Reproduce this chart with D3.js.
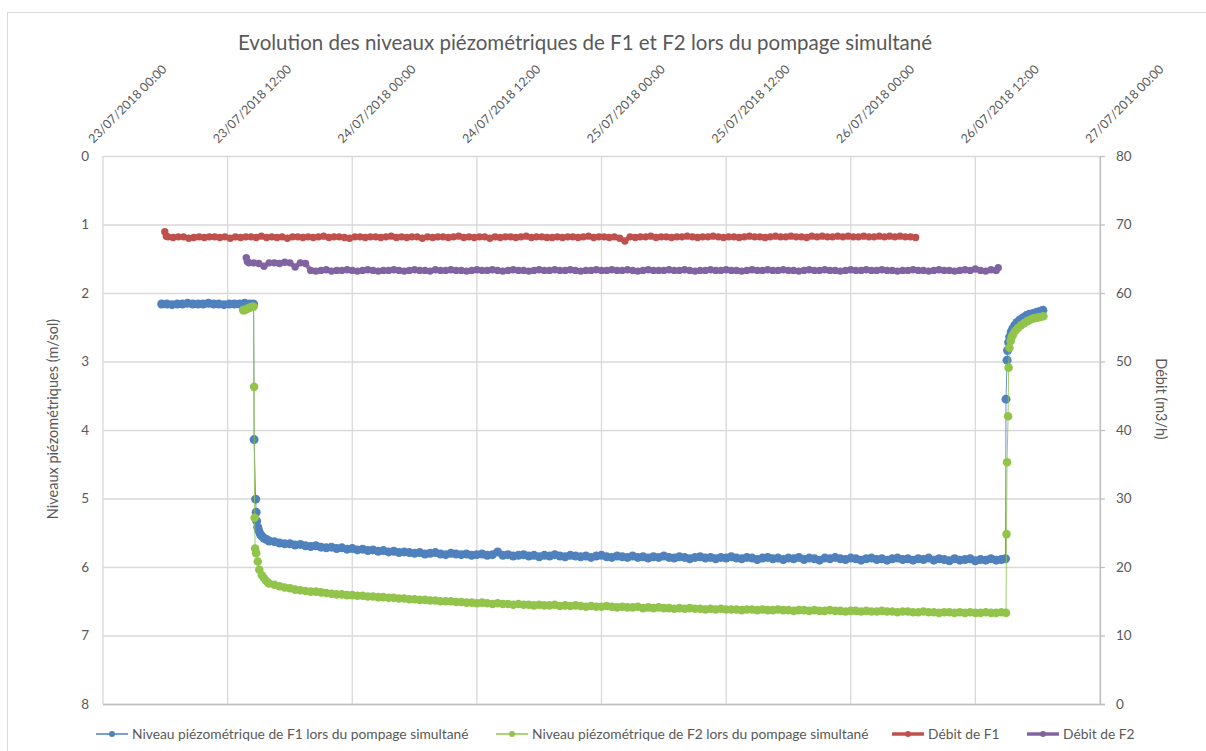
<!DOCTYPE html>
<html>
<head>
<meta charset="utf-8">
<script src="https://cdn.jsdelivr.net/npm/d3@7"></script>
<style>
  body { margin: 0; background: #fff; }
  svg text { font-family: Lato, "Open Sans", sans-serif; fill: #595959; }
</style>
</head>
<body>
<div id="chart"></div>
<script>
// times are hours after 23/07/2018 00:00 ; regular parts are logged every 30 min
var logStep = 0.5;

// --- F1 level (m/sol)
var f1LevelPreStart = 5.65;
var f1LevelPre = [2.16,2.16,2.17,2.16,2.16,2.15,2.16,2.16,2.16,2.15,2.16,2.16,2.17,2.16,2.16,2.16,2.15,2.16];
var f1LevelDrop = [[14.5,2.16],[14.55,4.14],[14.7,5.01],[14.75,5.2],[14.8,5.33],[14.9,5.42],[15.0,5.47],
  [15.15,5.52],[15.3,5.55],[15.5,5.58],[15.75,5.6]];
var f1LevelPumpStart = 16.0;
var f1LevelPump = [
  5.62,5.63,5.65,5.66,5.66,5.68,5.67,5.69,5.70,5.69,
  5.71,5.72,5.71,5.73,5.72,5.74,5.73,5.75,5.74,5.76,
  5.75,5.77,5.76,5.78,5.77,5.79,5.78,5.79,5.80,5.79,
  5.81,5.80,5.79,5.81,5.82,5.80,5.81,5.82,5.81,5.83,
  5.82,5.81,5.83,5.82,5.78,5.83,5.82,5.84,5.83,5.82,
  5.84,5.83,5.85,5.83,5.84,5.82,5.84,5.85,5.83,5.84,
  5.85,5.84,5.86,5.84,5.83,5.85,5.86,5.84,5.85,5.86,
  5.84,5.86,5.85,5.87,5.85,5.86,5.84,5.86,5.87,5.85,
  5.86,5.88,5.86,5.85,5.87,5.86,5.88,5.86,5.87,5.85,
  5.87,5.88,5.86,5.87,5.89,5.87,5.86,5.88,5.87,5.89,
  5.87,5.88,5.86,5.89,5.87,5.88,5.90,5.87,5.88,5.86,
  5.88,5.89,5.87,5.88,5.90,5.88,5.87,5.89,5.88,5.90,
  5.88,5.87,5.89,5.88,5.90,5.88,5.89,5.87,5.90,5.88,
  5.89,5.91,5.88,5.90,5.89,5.88,5.91,5.89,5.90,5.88,
  5.90,5.89];
var f1LevelRecovery = [[86.9,5.88],[86.95,3.55],[87.05,2.98],[87.1,2.84],[87.2,2.72],[87.3,2.64],[87.45,2.57],
  [87.6,2.52],[87.8,2.47],[88.0,2.43],[88.3,2.39],[88.6,2.36],[88.9,2.33],[89.2,2.31],[89.55,2.3],
  [89.9,2.28],[90.2,2.27],[90.5,2.25]];

// --- F2 level (m/sol)
var f2LevelPre = [[13.5,2.25],[13.6,2.25],[13.75,2.24],[13.9,2.23],[14.05,2.22],[14.2,2.21],[14.35,2.2],[14.5,2.2]];
var f2LevelDrop = [[14.55,3.37],[14.6,5.28],[14.65,5.73],[14.75,5.8],[14.9,5.92],[15.05,6.04],[15.3,6.12],
  [15.5,6.16],[15.7,6.2],[15.9,6.23]];
var f2LevelPumpStart = 16.0;
var f2LevelPump = [
  6.24,6.26,6.28,6.30,6.31,6.33,6.34,6.35,6.36,6.36,
  6.37,6.38,6.39,6.40,6.40,6.41,6.41,6.42,6.42,6.43,
  6.43,6.44,6.44,6.45,6.45,6.46,6.46,6.47,6.47,6.48,
  6.48,6.49,6.49,6.50,6.50,6.50,6.51,6.51,6.52,6.52,
  6.53,6.52,6.53,6.54,6.53,6.54,6.54,6.55,6.54,6.55,
  6.55,6.56,6.55,6.56,6.56,6.55,6.57,6.56,6.57,6.56,
  6.57,6.58,6.57,6.58,6.58,6.57,6.58,6.59,6.58,6.59,
  6.59,6.58,6.60,6.59,6.60,6.59,6.60,6.60,6.61,6.60,
  6.61,6.60,6.61,6.61,6.62,6.61,6.62,6.61,6.62,6.62,
  6.62,6.63,6.62,6.62,6.63,6.62,6.63,6.63,6.62,6.63,
  6.63,6.64,6.63,6.63,6.64,6.63,6.64,6.64,6.63,6.64,
  6.64,6.65,6.64,6.64,6.65,6.64,6.65,6.65,6.64,6.65,
  6.65,6.66,6.65,6.65,6.66,6.66,6.65,6.66,6.66,6.67,
  6.66,6.66,6.67,6.66,6.67,6.66,6.67,6.67,6.66,6.67,
  6.67,6.66];
var f2LevelRecovery = [[86.95,6.67],[87.0,5.52],[87.05,4.47],[87.15,3.8],[87.2,3.09],[87.28,2.8],[87.4,2.7],
  [87.5,2.64],[87.65,2.6],[87.85,2.55],[88.1,2.51],[88.4,2.47],[88.7,2.44],[89.0,2.41],[89.3,2.39],
  [89.6,2.37],[89.95,2.36],[90.25,2.35],[90.55,2.34]];

// --- F1 flow (m3/h)
var f1FlowFirst = [[5.95,68.95],[6.1,68.3]];
var f1FlowStart = 6.25;
var f1Flow = [
  68.2,68.1,68.2,68.2,68.0,68.1,68.2,68.1,68.2,68.2,
  68.1,68.2,68.0,68.2,68.1,68.2,68.2,68.1,68.3,68.1,
  68.2,68.1,68.2,68.0,68.2,68.2,68.1,68.2,68.1,68.2,
  68.3,68.1,68.2,68.2,68.1,68.0,68.2,68.2,68.1,68.2,
  68.2,68.1,68.2,68.3,68.1,68.2,68.1,68.2,68.2,68.0,
  68.2,68.1,68.2,68.2,68.1,68.2,68.3,68.1,68.2,68.1,
  68.2,68.2,68.0,68.2,68.1,68.2,68.2,68.1,68.2,68.3,
  68.1,68.2,68.2,68.1,68.1,68.2,68.1,68.2,68.2,68.1,
  68.2,68.3,68.1,68.2,68.2,68.1,68.2,68.0,67.6,68.2,
  68.1,68.2,68.2,68.3,68.1,68.2,68.2,68.1,68.2,68.2,
  68.3,68.2,68.1,68.2,68.2,68.3,68.2,68.1,68.2,68.2,
  68.1,68.2,68.3,68.2,68.2,68.1,68.2,68.3,68.2,68.2,
  68.3,68.2,68.2,68.1,68.3,68.2,68.3,68.2,68.2,68.3,
  68.2,68.3,68.2,68.2,68.3,68.2,68.2,68.3,68.2,68.3,
  68.2,68.3,68.2,68.2,68.1];

// --- F2 flow (m3/h)
var f2FlowFirst = [[13.8,65.15],[13.9,64.6],[14.05,64.4]];
var f2FlowStart = 14.5;
var f2Flow = [
  64.4,64.3,63.9,64.4,64.4,64.3,64.5,64.4,63.8,64.4,
  64.3,63.3,63.2,63.3,63.4,63.2,63.3,63.3,63.4,63.3,
  63.2,63.3,63.4,63.3,63.2,63.3,63.3,63.4,63.3,63.2,
  63.3,63.4,63.3,63.3,63.2,63.4,63.3,63.3,63.4,63.3,
  63.3,63.2,63.3,63.4,63.3,63.3,63.4,63.3,63.2,63.3,
  63.4,63.3,63.3,63.2,63.3,63.4,63.3,63.3,63.4,63.3,
  63.3,63.4,63.3,63.2,63.3,63.3,63.4,63.3,63.3,63.4,
  63.3,63.3,63.4,63.3,63.2,63.3,63.4,63.3,63.3,63.3,
  63.4,63.3,63.3,63.4,63.3,63.2,63.3,63.3,63.4,63.3,
  63.3,63.4,63.3,63.3,63.2,63.3,63.4,63.3,63.3,63.4,
  63.3,63.3,63.4,63.3,63.3,63.2,63.3,63.4,63.3,63.3,
  63.4,63.3,63.3,63.2,63.3,63.4,63.3,63.3,63.4,63.3,
  63.3,63.4,63.3,63.3,63.2,63.3,63.3,63.4,63.3,63.3,
  63.2,63.3,63.4,63.3,63.3,63.2,63.3,63.4,63.3,63.5,
  63.3,63.2,63.4,63.3];
var f2FlowLast = [[86.2,63.7]];

var seriesNames = ["Niveau piézométrique de F1 lors du pompage simultané",
  "Niveau piézométrique de F2 lors du pompage simultané", "Débit de F1", "Débit de F2"];
var seriesColors = ["#4f81bd", "#92c44c", "#c0504d", "#8064a2"];
var levelTicks = [0,1,2,3,4,5,6,7,8];
var flowTicks = [0,10,20,30,40,50,60,70,80];

var width = 1206, height = 751;
var margin = { top: 156, right: 106, bottom: 47, left: 103 };
var plotW = width - margin.left - margin.right,
    plotH = height - margin.top - margin.bottom;

function regular(start, values) {
  return values.map(function(v, i) { return [start + i * logStep, v]; });
}
var t0 = new Date(2018, 6, 23, 0, 0);
function toDate(h) { return new Date(+t0 + h * 3600000); }

var f1Level = regular(f1LevelPreStart, f1LevelPre).concat(f1LevelDrop, regular(f1LevelPumpStart, f1LevelPump), f1LevelRecovery);
var f2Level = f2LevelPre.concat(f2LevelDrop, regular(f2LevelPumpStart, f2LevelPump), f2LevelRecovery);
var f1Q = f1FlowFirst.concat(regular(f1FlowStart, f1Flow));
var f2Q = f2FlowFirst.concat(regular(f2FlowStart, f2Flow), f2FlowLast);

var svg = d3.select("#chart").append("svg")
  .attr("width", width).attr("height", height);

svg.append("rect")
  .attr("x", 7.5).attr("y", 12.5).attr("width", 1210).attr("height", 760)
  .attr("fill", "#fff").attr("stroke", "#d9d9d9");

var g = svg.append("g")
  .attr("transform", "translate(" + margin.left + "," + margin.top + ")");

var x = d3.scaleTime().domain([t0, new Date(2018, 6, 27, 0, 0)]).range([0, plotW]);
var yL = d3.scaleLinear().domain([0, 8]).range([0, plotH]);
var yR = d3.scaleLinear().domain([0, 80]).range([plotH, 0]);
var xTicks = x.ticks(d3.timeHour.every(12));

// grid
g.append("g").selectAll("line").data(levelTicks).enter().append("line")
  .attr("x1", 0).attr("x2", plotW)
  .attr("y1", function(d) { return yL(d) + 0.5; }).attr("y2", function(d) { return yL(d) + 0.5; })
  .attr("stroke", "#d9d9d9").attr("stroke-width", 1.3);
g.append("g").selectAll("line").data(xTicks).enter().append("line")
  .attr("x1", function(d) { return x(d); }).attr("x2", function(d) { return x(d); })
  .attr("y1", 0).attr("y2", plotH)
  .attr("stroke", "#d9d9d9").attr("stroke-width", 1.3);

// top axis (dates)
var topAxis = g.append("g")
  .call(d3.axisTop(x).tickValues(xTicks).tickSize(0).tickFormat(d3.timeFormat("%d/%m/%Y %H:%M")));
topAxis.select(".domain").remove();
topAxis.selectAll("text")
  .attr("x", 0).attr("y", 0).attr("dy", null)
  .attr("text-anchor", "start")
  .attr("transform", "translate(-10,-12) rotate(-45)")
  .style("font-size", "12.5px");

// left axis
var leftAxis = g.append("g")
  .call(d3.axisLeft(yL).tickValues(levelTicks).tickSize(0).tickPadding(14));
leftAxis.select(".domain").remove();
leftAxis.selectAll("text").style("font-size", "13.5px");

// right axis
var rightAxis = g.append("g")
  .attr("transform", "translate(" + plotW + ",0)")
  .call(d3.axisRight(yR).tickValues(flowTicks).tickSize(5).tickSizeOuter(0).tickPadding(11));
rightAxis.select(".domain").attr("stroke", "#bfbfbf").attr("stroke-width", 1.3);
rightAxis.selectAll(".tick line").attr("stroke", "#bfbfbf").attr("stroke-width", 1.3);
rightAxis.selectAll("text").style("font-size", "13.5px");

// bottom axis line
g.append("line")
  .attr("x1", 0).attr("x2", plotW + 5).attr("y1", plotH + 0.5).attr("y2", plotH + 0.5)
  .attr("stroke", "#bfbfbf").attr("stroke-width", 1.3);

// series
function drawSeries(data, yScale, color, lineW, r) {
  var line = d3.line()
    .x(function(d) { return x(toDate(d[0])); })
    .y(function(d) { return yScale(d[1]); });
  var sg = g.append("g");
  sg.append("path").datum(data)
    .attr("d", line).attr("fill", "none")
    .attr("stroke", color).attr("stroke-width", lineW).attr("stroke-opacity", 0.85);
  sg.selectAll("circle").data(data).enter().append("circle")
    .attr("cx", function(d) { return x(toDate(d[0])); })
    .attr("cy", function(d) { return yScale(d[1]); })
    .attr("r", r)
    .attr("fill", color);
}
drawSeries(f1Level, yL, seriesColors[0], 1, 4.5);
drawSeries(f2Level, yL, seriesColors[1], 1, 4.3);
drawSeries(f1Q, yR, seriesColors[2], 4.5, 3.7);
drawSeries(f2Q, yR, seriesColors[3], 4.5, 3.7);

// title
svg.append("text")
  .attr("x", 585).attr("y", 50)
  .attr("text-anchor", "middle")
  .style("font-size", "20.5px")
  .text("Evolution des niveaux piézométriques de F1 et F2 lors du pompage simultané");

// axis titles
svg.append("text")
  .attr("transform", "translate(58,419) rotate(-90)")
  .attr("text-anchor", "middle")
  .style("font-size", "14.5px")
  .text("Niveaux piézométriques (m/sol)");
svg.append("text")
  .attr("transform", "translate(1156,399) rotate(90)")
  .attr("text-anchor", "middle")
  .style("font-size", "14.5px")
  .text("Débit (m3/h)");

// legend
var legendX = [96, 496, 892, 1027];
var legendLineW = [1.5, 1.5, 3.5, 3.5];
var legend = svg.append("g").attr("transform", "translate(0,734)");
seriesNames.forEach(function(name, i) {
  var lg = legend.append("g").attr("transform", "translate(" + legendX[i] + ",0)");
  lg.append("line").attr("x1", 0).attr("x2", 32).attr("y1", 0).attr("y2", 0)
    .attr("stroke", seriesColors[i]).attr("stroke-width", legendLineW[i]);
  lg.append("circle").attr("cx", 16).attr("cy", 0).attr("r", 3).attr("fill", seriesColors[i]);
  lg.append("text").attr("x", 36).attr("y", 0).attr("dy", "0.35em")
    .style("font-size", "13.8px").text(name);
});
</script>
</body>
</html>
